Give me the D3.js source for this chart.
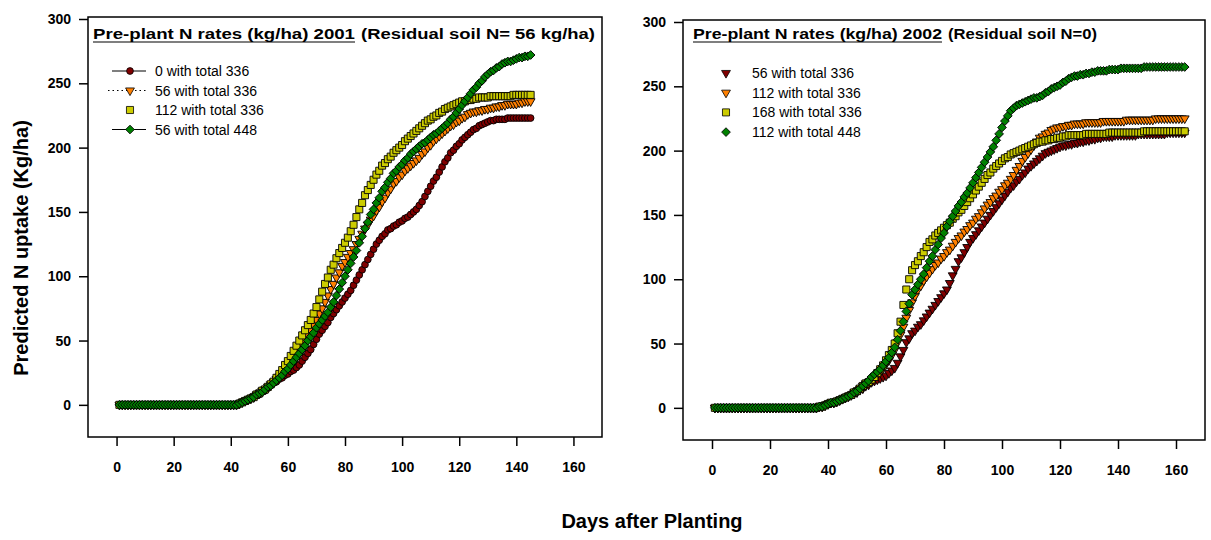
<!DOCTYPE html>
<html>
<head>
<meta charset="utf-8">
<script src="https://cdn.jsdelivr.net/npm/d3@7"></script>
<style>
  html, body { margin: 0; padding: 0; background: #fff; }
  svg { display: block; font-family: Arial, "Liberation Sans", sans-serif; }
</style>
</head>
<body>
<svg id="chart" width="1211" height="540"></svg>
<script>
// ---------- DATA ----------
const xTicks = [0, 20, 40, 60, 80, 100, 120, 140, 160];
const yTicks = [0, 50, 100, 150, 200, 250, 300];

// 2001 panel: daily, days 1..145 (days 1..41 are zero)
const daysLeft = d3.range(1, 146);
const zerosLeft = [0,0,0,0,0,0,0,0,0,0, 0,0,0,0,0,0,0,0,0,0, 0,0,0,0,0,0,0,0,0,0, 0,0,0,0,0,0,0,0,0,0, 0];
const left0 = zerosLeft.concat([
  0,1,2,3,4,5,6,7,8,10,
  11,13,15,17,18,20,21,23,24,26,
  27,29,31,34,37,40,43,47,51,55,
  58,61,64,68,71,74,77,80,83,86,
  89,93,97,101,105,109,113,117,121,125,
  128,131,133,136,137,139,140,142,143,145,
  146,148,150,152,155,158,162,166,170,174,
  177,181,185,189,192,196,198,201,203,206,
  208,210,212,214,215,217,218,219,220,221,
  221,222,222,222,222,223,223,223,223,223,
  223,223,223,223]);
const left56 = zerosLeft.concat([
  0,1,2,3,4,5,6,8,9,11,
  12,14,16,18,20,22,24,27,30,33,
  36,40,43,47,50,54,58,62,66,71,
  75,80,85,90,94,99,103,108,111,115,
  118,121,125,129,133,137,140,144,147,151,
  154,158,161,165,168,172,174,177,179,182,
  184,186,188,190,192,195,197,200,202,205,
  207,209,211,213,215,217,218,220,221,223,
  224,226,227,228,228,229,229,230,230,231,
  231,232,232,233,233,234,234,234,234,235,
  235,236,236,236]);
const left112 = zerosLeft.concat([
  0,1,2,3,4,5,6,8,9,11,
  12,14,16,18,21,24,27,31,34,38,
  42,46,50,54,58,62,66,71,76,82,
  88,94,99,105,109,114,118,122,126,130,
  135,140,146,152,157,163,167,171,175,179,
  182,186,188,191,193,196,198,200,202,205,
  207,209,211,213,215,217,219,221,222,224,
  225,227,228,230,231,232,233,234,235,236,
  236,237,237,238,238,239,239,239,239,240,
  240,240,240,240,240,240,240,241,241,241,
  241,241,241,241]);
const left56t448 = zerosLeft.concat([
  0,1,2,3,4,5,6,8,9,10,
  12,14,15,17,19,21,23,26,28,31,
  34,37,40,43,46,50,53,56,60,63,
  66,69,72,76,80,85,90,95,100,105,
  110,115,120,126,131,137,142,148,152,157,
  161,166,169,173,176,180,182,185,187,190,
  192,195,197,199,201,203,204,206,208,210,
  211,213,215,217,219,222,224,227,230,233,
  236,239,242,245,247,250,252,255,257,259,
  260,262,263,265,266,267,267,268,269,270,
  270,271,271,272]);

// 2002 panel: daily, days 1..163 (days 1..36 are zero)
const daysRight = d3.range(1, 164);
const zerosRight = [0,0,0,0,0,0,0,0,0,0, 0,0,0,0,0,0,0,0,0,0, 0,0,0,0,0,0,0,0,0,0, 0,0,0,0,0,0];
const right56 = zerosRight.concat([
  1,1,2,3,4,4,5,6,7,8,
  9,10,11,12,14,15,17,18,20,21,
  22,23,24,25,27,29,31,35,40,45,
  51,54,58,60,63,65,68,71,74,77,
  80,83,86,89,92,97,103,108,114,117,
  121,125,129,132,135,138,141,144,147,150,
  153,156,159,162,165,168,171,173,176,178,
  181,183,186,188,190,192,194,196,198,199,
  200,201,202,203,204,204,205,205,206,206,
  207,207,208,208,209,209,210,210,211,211,
  211,211,212,212,212,212,212,212,212,212,
  213,213,213,213,213,213,213,213,213,213,
  214,214,214,214,214,214,214]);
const right112 = zerosRight.concat([
  1,1,2,3,4,4,5,6,7,8,
  9,10,12,13,15,17,19,20,22,24,
  26,28,31,34,37,41,45,51,57,63,
  70,76,82,87,92,95,99,102,105,108,
  111,113,116,118,121,123,126,129,132,134,
  137,139,142,144,147,149,152,155,158,160,
  163,165,168,170,173,175,178,181,185,188,
  192,195,198,201,204,207,210,211,213,214,
  216,217,218,218,219,219,220,220,221,221,
  221,221,222,222,222,222,222,222,223,223,
  223,223,223,223,223,223,224,224,224,224,
  224,224,224,224,224,224,225,225,225,225,
  225,225,225,225,225,225,225]);
const right168 = zerosRight.concat([
  1,1,2,3,4,4,5,6,7,8,
  9,10,12,13,15,17,19,20,22,24,
  27,30,33,37,41,45,50,58,67,80,
  92,100,107,111,114,118,121,125,129,131,
  134,136,138,140,142,144,147,149,152,154,
  157,160,163,166,169,172,175,178,181,183,
  186,188,190,192,194,195,197,198,199,200,
  201,202,203,204,205,206,207,207,208,208,
  209,209,210,210,211,211,212,212,212,212,
  212,212,213,213,213,213,213,213,213,213,
  214,214,214,214,214,214,214,214,214,214,
  214,214,215,215,215,215,215,215,215,215,
  215,215,215,215,215,215,215]);
const right112t448 = zerosRight.concat([
  1,1,2,3,4,4,5,6,7,8,
  9,10,12,13,15,17,19,21,24,26,
  28,30,33,36,39,43,47,53,60,67,
  75,81,88,92,96,100,104,109,114,118,
  123,127,132,136,141,145,149,153,157,160,
  164,167,171,175,179,183,187,191,195,199,
  203,208,213,218,223,227,231,233,235,236,
  237,238,239,240,241,241,242,243,245,246,
  248,249,250,251,253,254,256,257,258,258,
  259,259,260,260,261,261,262,262,262,262,
  263,263,263,263,264,264,264,264,264,264,
  264,264,265,265,265,265,265,265,265,265,
  265,265,265,265,265,265,265]);

const leftNames = ["0 with total 336", "56 with total 336", "112 with total 336", "56 with total 448"];
const rightNames = ["56 with total 336", "112 with total 336", "168 with total 336", "112 with total 448"];
const leftTitleA = "Pre-plant N rates (kg/ha) 2001";
const leftTitleB = "(Residual soil N= 56 kg/ha)";
const rightTitleA = "Pre-plant N rates (kg/ha) 2002";
const rightTitleB = "(Residual soil N=0)";
const yTitle = "Predicted N uptake (Kg/ha)";
const xTitle = "Days after Planting";

// ---------- STYLES ----------
const COL = { red: "#800000", orange: "#ff8000", yellow: "#cccc00", green: "#008000" };

const svg = d3.select("#chart");

function panel(cfg) {
  const x = d3.scaleLinear().domain([-10, 170]).range([cfg.x0, cfg.x1]);
  const y = d3.scaleLinear().domain([-25, 300]).range([cfg.y1, cfg.y0 + 2]);
  const g = svg.append("g");

  g.append("rect").attr("x", cfg.x0).attr("y", cfg.y0)
    .attr("width", cfg.x1 - cfg.x0).attr("height", cfg.y1 - cfg.y0)
    .attr("fill", "none").attr("stroke", "#000").attr("stroke-width", 1.5);

  const yAx = g.append("g").attr("transform", `translate(${cfg.x0},0)`)
    .call(d3.axisLeft(y).tickValues(yTicks).tickSize(9).tickPadding(8).tickFormat(d3.format("d")));
  const xAx = g.append("g").attr("transform", `translate(0,${cfg.y1})`)
    .call(d3.axisBottom(x).tickValues(xTicks).tickSize(9).tickPadding(16).tickFormat(d3.format("d")));
  [yAx, xAx].forEach(a => {
    a.select(".domain").remove();
    a.selectAll("line").attr("stroke", "#000").attr("stroke-width", 1.5);
    a.selectAll("text").attr("font-size", 14).attr("font-weight", "bold")
      .attr("font-family", "Arial, 'Liberation Sans', sans-serif").attr("fill", "#000");
  });

  cfg.series.forEach(s => {
    const pts = s.values.map((v, i) => [s.days[i], v]);
    if (s.line) {
      g.append("path").datum(pts)
        .attr("fill", "none").attr("stroke", "#000").attr("stroke-width", 1)
        .attr("stroke-dasharray", s.line === "dot" ? "1.5,2" : null)
        .attr("d", d3.line().x(d => x(d[0])).y(d => y(d[1])));
    }
    g.append("g").selectAll("path").data(pts).join("path")
      .attr("transform", d => `translate(${x(d[0])},${y(d[1])}) rotate(${s.rot || 0})`)
      .attr("d", d3.symbol().type(s.sym).size(s.size))
      .attr("fill", s.color).attr("stroke", "#000").attr("stroke-width", 0.9);
  });

  g.append("text").attr("x", cfg.tx).attr("y", cfg.ty)
    .attr("font-size", 14).attr("font-weight", "bold")
    .attr("textLength", cfg.twA).attr("lengthAdjust", "spacingAndGlyphs").text(cfg.titleA);
  g.append("line").attr("x1", cfg.tx).attr("x2", cfg.tx + cfg.twA)
    .attr("y1", cfg.ty + 3).attr("y2", cfg.ty + 3).attr("stroke", "#000").attr("stroke-width", 1.2);
  g.append("text").attr("x", cfg.tx + cfg.twA + 6).attr("y", cfg.ty)
    .attr("font-size", 14).attr("font-weight", "bold")
    .attr("textLength", cfg.twB).attr("lengthAdjust", "spacingAndGlyphs").text(cfg.titleB);

  cfg.series.forEach((s, i) => {
    const ly = cfg.ly0 + i * cfg.ldy;
    if (s.legLine) {
      g.append("line").attr("x1", s.legLine[0]).attr("x2", s.legLine[1])
        .attr("y1", ly).attr("y2", ly).attr("stroke", "#000").attr("stroke-width", 1.2)
        .attr("stroke-dasharray", s.line === "dot" ? "1.5,3" : null);
    }
    g.append("path").attr("transform", `translate(${cfg.lx},${ly}) rotate(${s.rot || 0})`)
      .attr("d", d3.symbol().type(s.sym).size(s.size))
      .attr("fill", s.color).attr("stroke", "#000").attr("stroke-width", 0.8);
    g.append("text").attr("x", cfg.ltx).attr("y", ly + 5)
      .attr("font-size", 14).attr("fill", "#000").text(s.name);
  });
}

panel({
  x0: 88, x1: 602, y0: 17, y1: 437,
  tx: 93, ty: 39, twA: 262, twB: 234, titleA: leftTitleA, titleB: leftTitleB,
  lx: 130, ltx: 155, ly0: 71, ldy: 19.5,
  series: [
    { name: leftNames[0], days: daysLeft, values: left0, color: COL.red, sym: d3.symbolCircle, size: 36, line: "solid", legLine: [112, 146] },
    { name: leftNames[1], days: daysLeft, values: left56, color: COL.orange, sym: d3.symbolTriangle, rot: 180, size: 34, line: "dot", legLine: [108, 148] },
    { name: leftNames[2], days: daysLeft, values: left112, color: COL.yellow, sym: d3.symbolSquare, size: 50, line: null, legLine: null },
    { name: leftNames[3], days: daysLeft, values: left56t448, color: COL.green, sym: d3.symbolSquare, rot: 45, size: 38, line: "solid", legLine: [112, 146] }
  ]
});

panel({
  x0: 683, x1: 1205, y0: 20, y1: 440,
  tx: 693, ty: 39, twA: 249, twB: 149, titleA: rightTitleA, titleB: rightTitleB,
  lx: 726, ltx: 752, ly0: 73, ldy: 19.7,
  series: [
    { name: rightNames[0], days: daysRight, values: right56, color: COL.red, sym: d3.symbolTriangle, rot: 180, size: 34, line: null, legLine: null },
    { name: rightNames[1], days: daysRight, values: right112, color: COL.orange, sym: d3.symbolTriangle, rot: 180, size: 34, line: null, legLine: null },
    { name: rightNames[2], days: daysRight, values: right168, color: COL.yellow, sym: d3.symbolSquare, size: 50, line: null, legLine: null },
    { name: rightNames[3], days: daysRight, values: right112t448, color: COL.green, sym: d3.symbolSquare, rot: 45, size: 38, line: null, legLine: null }
  ]
});

svg.append("text").attr("transform", "translate(28,248) rotate(-90)")
  .attr("text-anchor", "middle").attr("font-size", 20).attr("font-weight", "bold").text(yTitle);
svg.append("text").attr("x", 652).attr("y", 528)
  .attr("text-anchor", "middle").attr("font-size", 20).attr("font-weight", "bold").text(xTitle);
</script>
</body>
</html>
